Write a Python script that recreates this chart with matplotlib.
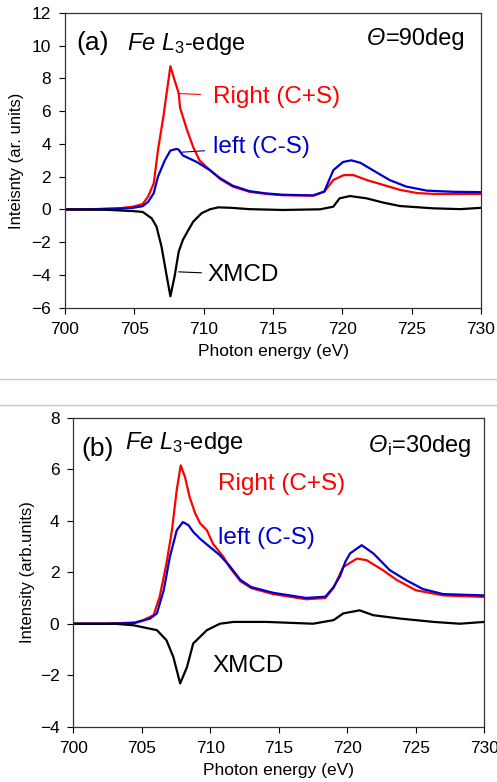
import matplotlib
matplotlib.use("Agg")
import matplotlib.pyplot as plt
from matplotlib.lines import Line2D

plt.rcParams['font.family'] = ['Liberation Sans', 'DejaVu Sans']
plt.rcParams['mathtext.fontset'] = 'custom'
plt.rcParams['mathtext.rm'] = 'Liberation Sans'
plt.rcParams['mathtext.it'] = 'Liberation Sans:italic'

RED = '#ff0000'
BLUE = '#0000cc'

# ---- panel (a): Theta = 90 deg ----
red_a_e = [700, 702, 704, 704.9, 705.6, 706.0, 706.4, 706.7, 707.1, 707.6, 707.9, 708.2, 708.3,
           708.8, 709.25, 709.7, 710.2, 711.2, 712.1, 713.3, 714.5, 715.7, 717.9, 718.7, 719.35,
           720.1, 720.8, 721.75, 722.95, 724.15, 725.4, 726.6, 730]
red_a_i = [0, 0.02, 0.08, 0.17, 0.33, 0.8, 1.6, 3.6, 5.7, 8.75, 7.9, 7.1, 6.2,
           4.85, 3.8, 3.0, 2.6, 1.85, 1.4, 1.08, 0.95, 0.87, 0.84, 1.08, 1.8,
           2.1, 2.1, 1.8, 1.5, 1.2, 1.0, 0.95, 0.95]

blue_a_e = [700, 702, 704, 704.9, 705.6, 706.0, 706.4, 706.7, 707.2, 707.6, 708.05, 708.2, 708.5,
            709.5, 710.45, 711.2, 712.1, 713.3, 714.5, 715.7, 717.9, 718.7, 719.35, 720.05,
            720.65, 721.3, 722.2, 723.4, 724.6, 726.1, 728, 730]
blue_a_i = [0, 0.01, 0.05, 0.1, 0.2, 0.47, 1.0, 2.0, 3.0, 3.6, 3.7, 3.65, 3.3,
            2.9, 2.4, 1.9, 1.45, 1.12, 0.98, 0.9, 0.86, 1.1, 2.4, 2.9,
            3.0, 2.85, 2.4, 1.8, 1.4, 1.15, 1.08, 1.06]

xmcd_a_e = [700, 703, 704.9, 705.6, 706.25, 706.6, 706.96, 707.3, 707.6, 707.9, 708.2, 708.5,
            708.9, 709.25, 709.85, 710.45, 711.05, 712, 713.3, 715.7, 718.4, 719.35, 719.8,
            720.55, 721.75, 722.95, 724.15, 726.55, 728.5, 730]
xmcd_a_i = [0, -0.02, -0.1, -0.15, -0.54, -1.05, -2.27, -3.9, -5.3, -4.1, -2.57, -1.86,
            -1.25, -0.74, -0.23, 0.01, 0.13, 0.1, 0.02, -0.03, 0.01, 0.17, 0.68,
            0.82, 0.68, 0.42, 0.21, 0.07, 0.02, 0.1]

# ---- panel (b): Theta_i = 30 deg ----
red_b_e = [700, 702.5, 704.5, 705.1, 705.85, 706.3, 706.8, 707.2, 707.55, 707.84, 708.15, 708.5,
           708.9, 709.25, 709.75, 710.2, 710.95, 711.4, 712.2, 713, 714.6, 717.0, 718.4, 719.0,
           719.7, 720.7, 721.4, 722.6, 723.6, 725, 727, 730]
red_b_i = [0, 0, 0.05, 0.14, 0.33, 1.04, 2.34, 3.63, 5.2, 6.15, 5.7, 4.9,
           4.28, 3.9, 3.63, 3.1, 2.6, 2.2, 1.65, 1.38, 1.15, 0.95, 1.0, 1.4,
           2.2, 2.53, 2.47, 2.08, 1.7, 1.3, 1.1, 1.04]

blue_b_e = [700, 702.5, 704.5, 705.6, 706.1, 706.6, 707.05, 707.55, 708.0, 708.4, 708.75, 709.25,
            709.97, 710.7, 711.4, 712.2, 713, 714.6, 717.0, 718.4, 719.0, 719.47, 719.85, 720.2,
            721.05, 721.9, 723.1, 724.3, 725.5, 727, 730]
blue_b_i = [0, 0, 0.03, 0.2, 0.4, 1.3, 2.6, 3.63, 3.95, 3.83, 3.57, 3.3,
            2.98, 2.66, 2.25, 1.7, 1.42, 1.2, 1.0, 1.05, 1.43, 1.85, 2.4, 2.73,
            3.05, 2.73, 2.08, 1.69, 1.35, 1.15, 1.1]

xmcd_b_e = [700, 703, 704.4, 706.1, 706.8, 707.3, 707.8, 708.3, 708.75, 709.25, 709.75, 710.7,
            711.7, 714.1, 717.5, 719.0, 719.7, 720.9, 721.9, 723.85, 726.3, 728.2, 730]
xmcd_b_i = [0, 0, -0.06, -0.25, -0.64, -1.29, -2.32, -1.68, -0.77, -0.51, -0.25, 0.0,
            0.07, 0.07, 0.0, 0.14, 0.4, 0.52, 0.33, 0.2, 0.07, 0.0, 0.07]

x_ticks = [700, 705, 710, 715, 720, 725, 730]


def style_axes(ax, yticks, ylabel, label_x):
    ax.set_xlim(700, 730)
    ax.set_ylim(yticks[0], yticks[-1])
    ax.set_xticks(x_ticks)
    ax.set_yticks(yticks)
    ax.tick_params(direction='out', length=4, width=0.8, labelsize=12.5, pad=6)
    for sp in ax.spines.values():
        sp.set_linewidth(0.9)
        sp.set_color('#333333')
    ax.set_xlabel('Photon energy (eV)', fontsize=12.5, labelpad=5)
    ax.set_ylabel(ylabel, fontsize=12)
    ax.yaxis.set_label_coords(label_x, 0.5)


def theta_label(ax, rest, x, y):
    # italic Theta followed by the rest, right aligned at x
    t = ax.text(x, y, rest, transform=ax.transAxes, ha='right', va='baseline', fontsize=17)
    ax.annotate('Θ', xy=(0, y), xycoords=(t, 'axes fraction'), ha='right', va='baseline',
                fontsize=17, style='italic')


fig = plt.figure(figsize=(4.97, 7.82), dpi=100)

# panel (a)
ax1 = fig.add_axes([0.1308, 0.6065, 0.837, 0.3769])
ax1.plot(red_a_e, red_a_i, color=RED, lw=1.6)
ax1.plot(blue_a_e, blue_a_i, color=BLUE, lw=1.6)
ax1.plot(xmcd_a_e, xmcd_a_i, color='black', lw=1.6)
style_axes(ax1, [-6, -4, -2, 0, 2, 4, 6, 8, 10, 12], 'Inteisnty (ar. units)', -0.098)

ax1.text(700.8, 9.73, '(a)', fontsize=19, va='baseline')
ax1.text(704.47, 9.73, r'$Fe$ $L_{3}$-edge', fontsize=17, va='baseline')
theta_label(ax1, '=90deg', 0.962, 0.891)
ax1.annotate('Right (C+S)', xy=(708.15, 7.08), xytext=(710.67, 6.48), color=RED, fontsize=17.5,
             va='baseline', arrowprops=dict(arrowstyle='-', color=RED, lw=0.8, shrinkA=7, shrinkB=0))
ax1.annotate('left (C-S)', xy=(708.44, 3.5), xytext=(710.67, 3.43), color=BLUE, fontsize=17.5,
             va='baseline', arrowprops=dict(arrowstyle='-', color=BLUE, lw=0.8, shrinkA=4, shrinkB=0))
ax1.annotate('XMCD', xy=(708.2, -3.81), xytext=(710.24, -4.34), color='black', fontsize=17.5,
             va='baseline', arrowprops=dict(arrowstyle='-', color='black', lw=0.8, shrinkA=2, shrinkB=0))

# panel (b)
ax2 = fig.add_axes([0.1475, 0.0707, 0.827, 0.3951])
ax2.plot(red_b_e, red_b_i, color=RED, lw=1.6)
ax2.plot(blue_b_e, blue_b_i, color=BLUE, lw=1.6)
ax2.plot(xmcd_b_e, xmcd_b_i, color='black', lw=1.6)
style_axes(ax2, [-4, -2, 0, 2, 4, 6, 8], 'Intensity (arb.units)', -0.093)

ax2.text(700.57, 6.5, '(b)', fontsize=19, va='baseline')
ax2.text(703.78, 6.8, r'$Fe$ $L_{3}$-edge', fontsize=17, va='baseline')
theta_label(ax2, r'${}_{\mathrm{i}}$=30deg', 0.97, 0.89)
ax2.text(710.56, 5.18, 'Right (C+S)', color=RED, fontsize=17.5, va='baseline')
ax2.text(710.56, 3.11, 'left (C-S)', color=BLUE, fontsize=17.5, va='baseline')
ax2.text(710.17, -1.87, 'XMCD', color='black', fontsize=17.5, va='baseline')

# grey separators between the two panels
for yy in [1 - 379.3 / 782, 1 - 405 / 782]:
    fig.add_artist(Line2D([0, 1], [yy, yy], transform=fig.transFigure, color='#c8c8c8', lw=1))

fig.savefig('out.png', dpi=100)
